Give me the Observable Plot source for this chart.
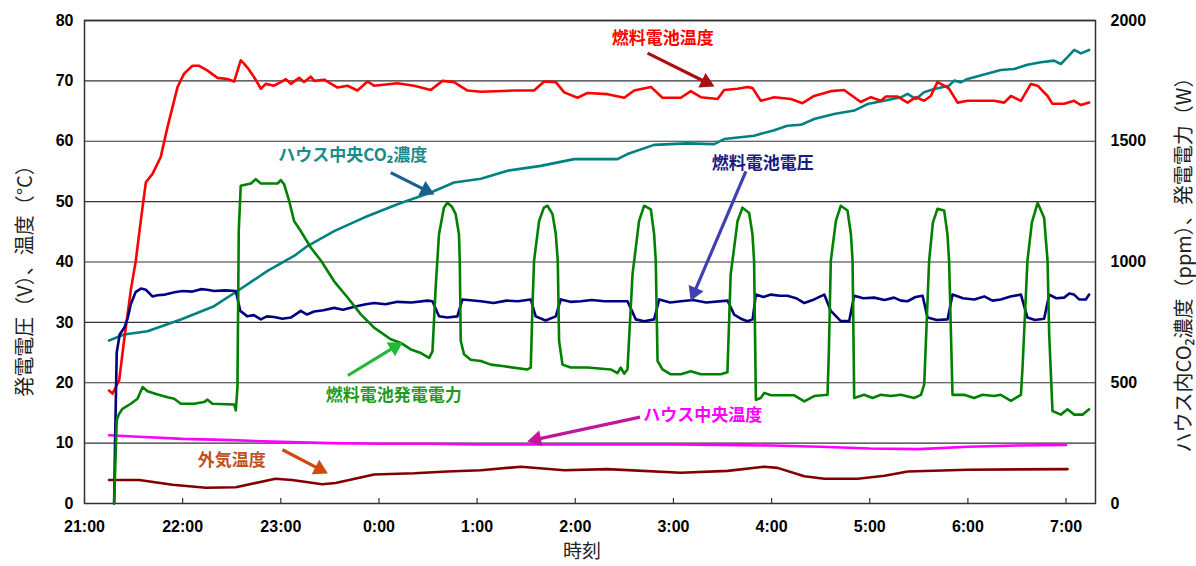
<!DOCTYPE html>
<html><head><meta charset="utf-8">
<script src="https://cdn.jsdelivr.net/npm/d3@7"></script>
<script src="https://cdn.jsdelivr.net/npm/@observablehq/plot@0.6"></script>
<style>body{margin:0;background:#fff}#chart svg{display:block}</style>
</head><body><div id="chart"></div>
<script>
// x = minutes after 21:00
const xTickMinutes = [0,60,120,180,240,300,360,420,480,540,600];
const xTickLabels = ["21:00","22:00","23:00","0:00","1:00","2:00","3:00","4:00","5:00","6:00","7:00"];
const leftTicks = [0,10,20,30,40,50,60,70,80];
const gridValues = [10,20,30,40,50,60,70];
const rightTicks = [0,500,1000,1500,2000];

// 燃料電池温度 (°C)
const fcTemp = [[15.0,18.7],[17.1,18.2],[19.1,19.3],[21.2,20.4],[22.2,22.6],[24.2,27.0],[28.3,35.3],[31.4,40.3],[33.4,44.7],[35.5,49.1],[37.5,53.2],[41.6,54.6],[46.6,57.4],[50.7,62.3],[56.9,69.0],[60.9,71.2],[66.0,72.5],[70.1,72.5],[75.2,71.7],[81.3,70.5],[87.4,70.3],[91.5,69.9],[93.9,72.0],[95.5,73.4],[97.6,72.8],[99.6,72.2],[103.7,70.6],[107.8,68.7],[110.8,69.5],[115.9,69.2],[120.0,69.8],[123.1,70.3],[126.1,69.5],[131.2,70.5],[134.2,69.8],[138.3,70.7],[140.4,70.0],[146.5,70.2],[154.7,68.9],[160.8,69.2],[166.9,68.4],[173.0,69.9],[177.0,69.2],[191.3,69.6],[201.5,69.2],[211.7,68.5],[218.8,70.0],[225.9,69.8],[234.1,68.4],[242.3,68.2],[262.6,68.4],[274.8,68.4],[281.0,69.9],[288.1,69.8],[293.2,68.1],[301.4,67.2],[307.5,68.0],[319.7,67.8],[329.9,67.2],[336.0,68.4],[346.2,69.0],[353.3,67.2],[364.5,67.2],[370.6,68.3],[376.7,67.3],[387.0,67.0],[391.0,68.5],[399.2,68.7],[405.3,69.0],[408.4,68.8],[413.4,66.7],[421.6,67.3],[431.8,67.0],[438.9,66.3],[446.0,67.5],[456.2,68.3],[464.3,68.5],[474.5,66.5],[480.7,67.3],[486.8,66.7],[489.9,67.4],[497.0,67.4],[503.1,66.4],[508.2,67.3],[513.2,66.7],[517.3,67.5],[521.4,69.8],[525.5,69.2],[528.5,68.7],[533.7,66.4],[539.8,66.7],[547.9,66.7],[556.0,66.7],[562.2,66.4],[566.3,67.5],[572.4,66.7],[578.5,69.5],[582.6,69.2],[588.7,67.5],[591.7,66.2],[598.8,66.2],[604.9,66.7],[609.1,66.0],[614.1,66.4]];

// ハウス中央CO2濃度 (ppm)
const co2 = [[15.0,675],[24.2,700],[38.5,713],[58.9,762],[79.2,817],[93.5,880],[111.9,963],[128.1,1025],[136.3,1066],[152.6,1128],[170.9,1184],[191.3,1239],[211.7,1288],[225.9,1329],[242.3,1345],[258.6,1378],[278.9,1398],[299.3,1426],[325.8,1426],[331.9,1447],[348.2,1485],[368.6,1491],[384.9,1488],[391.0,1509],[409.3,1523],[421.6,1546],[429.7,1564],[437.9,1568],[446.0,1592],[458.2,1613],[470.5,1627],[478.6,1654],[488.8,1668],[499.0,1682],[503.1,1696],[508.2,1675],[513.2,1703],[519.4,1716],[528.5,1730],[531.6,1751],[535.6,1744],[539.8,1758],[549.9,1776],[560.1,1795],[568.3,1799],[576.4,1817],[584.6,1827],[592.7,1834],[596.8,1820],[600.9,1848],[605.0,1878],[609.1,1864],[614.1,1878]];

// 燃料電池電圧 (V)
const fcVolt = [[18.1,0],[18.7,10.4],[19.7,25.0],[21.5,28.0],[24.5,29.2],[26.5,30.8],[28.3,33.0],[31.2,35.0],[34.5,35.6],[37.5,35.4],[41.5,34.3],[44.5,34.5],[49.3,34.6],[55.0,35.0],[60.0,35.2],[66.0,35.1],[71.1,35.5],[75.0,35.4],[79.2,35.2],[86.0,35.3],[92.5,35.2],[95.2,31.9],[99.6,31.0],[103.5,31.2],[107.8,30.5],[111.5,31.0],[115.9,30.9],[121.0,30.6],[126.1,30.8],[130.0,31.5],[132.2,31.9],[136.0,31.3],[140.4,31.8],[146.0,32.0],[152.6,32.4],[158.0,32.1],[166.9,32.7],[172.0,33.0],[177.0,33.2],[184.0,33.0],[191.3,33.4],[200.0,33.3],[209.6,33.6],[212.7,33.5],[216.7,31.0],[221.8,30.8],[227.9,31.0],[231.0,33.8],[242.3,33.5],[250.0,33.2],[258.0,33.6],[265.0,33.5],[272.8,33.8],[275.8,31.0],[281.9,30.3],[288.1,31.0],[291.1,33.8],[297.0,33.4],[303.3,33.5],[310.0,33.7],[318.0,33.5],[331.9,33.5],[337.0,30.5],[342.1,30.2],[348.2,30.5],[351.3,33.8],[358.0,33.3],[364.5,33.5],[372.0,33.7],[380.0,33.3],[393.1,33.6],[397.1,31.3],[402.0,30.5],[405.3,30.2],[408.4,30.5],[410.4,34.6],[415.0,34.2],[419.6,34.6],[425.0,34.4],[429.7,34.4],[435.0,34.0],[440.0,33.2],[446.0,33.8],[452.2,34.6],[456.2,31.9],[462.3,30.2],[467.4,30.2],[470.5,34.4],[476.0,34.0],[482.7,34.1],[489.0,33.7],[494.9,34.1],[499.0,33.6],[503.1,33.5],[508.0,34.2],[512.3,34.4],[515.3,30.8],[521.0,30.4],[527.6,30.5],[530.6,34.6],[537.0,34.0],[543.9,33.8],[550.0,34.3],[555.0,33.6],[560.1,33.8],[566.0,34.3],[572.4,34.6],[576.4,30.8],[581.0,30.4],[586.6,30.6],[589.7,34.6],[594.0,34.0],[598.8,34.1],[602.0,34.8],[604.9,34.6],[608.0,33.8],[612.1,33.8],[614.1,34.6]];

// 燃料電池発電電力 (W)
const fcPower = [[18.1,0],[19.7,344],[21.1,371],[23.2,392],[28.3,413],[32.4,434],[35.5,482],[38.5,465],[44.7,451],[50.8,440],[54.8,434],[58.9,413],[67.0,413],[73.1,420],[75.2,430],[78.2,413],[91.5,410],[92.5,385],[93.5,482],[94.3,1130],[95.5,1316],[101.7,1325],[104.7,1343],[107.8,1325],[118.0,1325],[120.0,1339],[122.0,1322],[125.1,1253],[128.1,1170],[132.2,1128],[138.3,1060],[144.6,1005],[152.6,920],[160.8,853],[168.9,783],[177.0,728],[187.2,680],[193.3,665],[199.5,638],[205.6,623],[210.7,603],[212.7,630],[214.7,900],[216.7,1115],[219.7,1225],[221.8,1245],[224.5,1230],[226.9,1198],[228.9,1115],[229.4,1000],[230.0,673],[232.0,618],[236.1,595],[242.3,590],[248.4,575],[256.5,568],[270.8,555],[272.8,563],[273.8,810],[274.8,1005],[277.9,1170],[280.8,1225],[283.0,1233],[286.1,1198],[288.1,1115],[289.3,1005],[290.1,673],[292.2,575],[297.2,563],[307.5,563],[321.7,555],[325.8,540],[327.8,563],[329.9,538],[331.9,555],[335.0,950],[336.0,1005],[339.0,1170],[342.1,1233],[346.2,1218],[348.2,1115],[349.2,1005],[350.3,590],[353.3,555],[358.4,535],[364.5,535],[370.6,548],[376.7,535],[388.9,535],[393.0,543],[395.0,950],[396.1,1005],[399.2,1170],[402.2,1225],[406.3,1203],[408.3,1115],[409.3,1005],[410.4,430],[413.4,437],[415.5,458],[419.6,448],[433.9,448],[440.0,423],[446.0,445],[454.2,450],[455.0,625],[456.2,1005],[459.3,1170],[462.3,1233],[466.4,1213],[468.5,1115],[469.5,1005],[470.5,437],[476.6,450],[481.7,437],[486.8,450],[492.9,445],[499.0,450],[507.2,437],[511.3,450],[513.3,493],[516.3,1005],[518.6,1163],[521.4,1220],[525.5,1213],[527.5,1115],[528.5,1005],[530.6,450],[537.7,450],[543.8,437],[548.9,450],[556.0,445],[560.1,450],[566.3,425],[572.4,450],[573.4,563],[576.4,1005],[579.1,1163],[582.6,1245],[586.6,1183],[588.7,1005],[589.7,700],[591.7,383],[596.8,368],[600.9,390],[605.0,368],[610.1,368],[614.1,390]];

// ハウス中央温度 (°C)
const houseTemp = [[15.0,11.3],[30,11.1],[60,10.7],[90,10.5],[120,10.2],[150,10.0],[180,9.9],[210,9.9],[240,9.8],[300,9.8],[360,9.8],[420,9.6],[450,9.4],[480,9.1],[510,9.0],[540,9.4],[570,9.6],[600,9.7]];

// 外気温度 (°C)
const outTemp = [[15.0,3.9],[33.4,3.9],[53.8,3.1],[74.2,2.6],[92.5,2.7],[116.7,4.1],[126.9,3.9],[145.3,3.2],[153.5,3.4],[177.0,4.8],[201.5,5.0],[221.8,5.3],[242.3,5.5],[266.8,6.1],[293.3,5.5],[319.7,5.7],[364.5,5.1],[393.1,5.4],[415.5,6.1],[423.6,5.9],[440.0,4.5],[452.2,4.1],[472.7,4.1],[489.0,4.6],[503.3,5.3],[539.8,5.6],[600.9,5.7]];

// annotations (minutes, left-axis value)
const annoText = ["燃料電池温度","ハウス中央CO₂濃度","燃料電池電圧","燃料電池発電電力","ハウス中央温度","外気温度"];
const annoX = [353.5,164.0,414.6,189.1,377.9,90.0];
const annoY = [77.0,57.6,56.3,17.9,14.6,7.1];
const arrowX1 = [344.2,187.2,404.3,161.0,339.6,121.0];
const arrowY1 = [74.6,54.8,55.0,21.2,14.3,8.9];
const arrowX2 = [384.9,213.7,370.6,194.4,270.8,148.6];
const arrowY2 = [69.1,51.2,33.6,26.7,10.3,5.0];
const annoColor = ["#ff0000","#1a8a8a","#1a1a80","#1f9a1f","#ff00ff","#c0501c"];
const arrowColor = ["#a81010","#1b5f8f","#4040b0","#22b83a","#c0189c","#d04a10"];

const leftTitle = "発電電圧（V）、温度（°C）";
const rightTitle = "ハウス内CO₂濃度（ppm）、発電電力（W）";
const xTitle = "時刻";

const R = 25; // right axis units per left axis unit
const W = 1196, H = 566, ML = 84, MR = 101, MT = 20, MB = 63;
const xDomain = [0, 618], yDomain = [0, 80];
const sx = (W - ML - MR) / (xDomain[1] - xDomain[0]); // px per minute
const sy = (H - MT - MB) / (yDomain[1] - yDomain[0]); // px per unit
const idx = d3.range(annoText.length);
const headR = 6, headOff = 9; // arrowhead size and tip offset (px)
const heads = idx.map(i => {
  const dx = (arrowX2[i] - arrowX1[i]) * sx, dy = -(arrowY2[i] - arrowY1[i]) * sy;
  const L = Math.hypot(dx, dy), ux = dx / L, uy = dy / L;
  return {i, x: arrowX2[i] - ux * headOff / sx, y: arrowY2[i] + uy * headOff / sy,
          rot: Math.atan2(ux, -uy) * 180 / Math.PI};
});
const cjk = "'Noto Sans CJK JP','Noto Sans',sans-serif";
const num = "'Liberation Sans',Arial,sans-serif";
const lw = 2.6;

const chart = Plot.plot({
  width: W, height: H,
  marginLeft: ML, marginRight: MR, marginTop: MT, marginBottom: MB,
  x: {domain: xDomain},
  y: {domain: yDomain},
  style: {fontFamily: num, background: "#fff", color: "#000"},
  marks: [
    Plot.ruleY(gridValues, {stroke: "#333", strokeWidth: 1.2}),
    Plot.tickX(xTickMinutes, {x: d => d, insetTop: 478, stroke: "#333", strokeWidth: 1.2}),
    Plot.ruleY([80], {stroke: "#999", strokeWidth: 2}),
    Plot.frame({stroke: "#333", strokeWidth: 1.5}),
    Plot.axisX(xTickMinutes, {tickSize: 0, tickPadding: 17, tickFormat: d => xTickLabels[xTickMinutes.indexOf(d)], fontSize: 16, fontWeight: "bold", label: null}),
    Plot.axisY(leftTicks, {anchor: "left", tickSize: 0, tickPadding: 11, fontSize: 16, fontWeight: "bold", label: null}),
    Plot.axisY(rightTicks.map(v => v / R), {anchor: "right", tickSize: 0, tickPadding: 15, tickFormat: d => String(Math.round(d * R)), fontSize: 16, fontWeight: "bold", label: null}),
    Plot.text([leftTitle], {frameAnchor: "left", textAnchor: "middle", lineAnchor: "middle", dx: -59, dy: 14, rotate: -90, fontSize: 20, fontFamily: cjk, fill: "#222"}),
    Plot.text([rightTitle], {frameAnchor: "right", textAnchor: "middle", lineAnchor: "middle", dx: 89, dy: -2, rotate: -90, fontSize: 20, fontFamily: cjk, fill: "#222"}),
    Plot.text([xTitle], {frameAnchor: "bottom", textAnchor: "middle", lineAnchor: "middle", dx: -8, dy: 48, fontSize: 19, fontFamily: cjk, fill: "#222"}),
    Plot.line(outTemp, {x: d => d[0], y: d => d[1], stroke: "#800000", strokeWidth: lw}),
    Plot.line(houseTemp, {x: d => d[0], y: d => d[1], stroke: "#ff00ff", strokeWidth: lw}),
    Plot.line(co2, {x: d => d[0], y: d => d[1] / R, stroke: "#008080", strokeWidth: lw}),
    Plot.line(fcTemp, {x: d => d[0], y: d => d[1], stroke: "#ff0000", strokeWidth: lw}),
    Plot.line(fcVolt, {x: d => d[0], y: d => d[1], stroke: "#000080", strokeWidth: lw}),
    Plot.line(fcPower, {x: d => d[0], y: d => d[1] / R, stroke: "#008000", strokeWidth: lw}),
    Plot.link(heads, {x1: d => arrowX1[d.i], y1: d => arrowY1[d.i], x2: d => d.x, y2: d => d.y, stroke: d => arrowColor[d.i], strokeWidth: 3.2}),
    Plot.dot(heads, {x: d => d.x, y: d => d.y, symbol: "triangle", r: headR, rotate: d => d.rot, fill: d => arrowColor[d.i], stroke: "none"}),
    Plot.text(idx, {x: i => annoX[i], y: i => annoY[i], text: i => annoText[i], fill: i => annoColor[i], fontSize: 17, fontWeight: "bold", fontFamily: cjk})
  ]
});
document.getElementById("chart").append(chart);
</script>
</body></html>
